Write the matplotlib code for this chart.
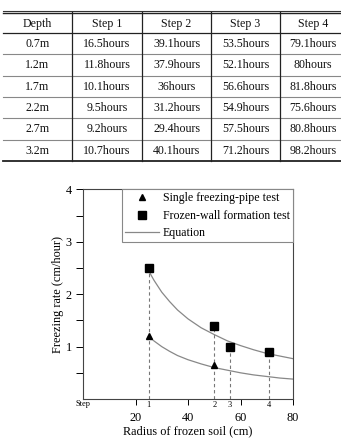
import numpy as np
import matplotlib
matplotlib.use("Agg")
import matplotlib.pyplot as plt
import matplotlib.transforms as mtransforms

plt.rcParams['font.family'] = ['Liberation Serif', 'DejaVu Serif']

#---------TABLE DATA----------
depths = ["0.7m", "1.2m", "1.7m", "2.2m", "2.7m", "3.2m"]
steps = ["Step 1", "Step 2", "Step 3", "Step 4"]
hours = [
    ["16.5hours", "39.1hours", "53.5hours", "79.1hours"],
    ["11.8hours", "37.9hours", "52.1hours", "80hours"],
    ["10.1hours", "36hours", "56.6hours", "81.8hours"],
    ["9.5hours", "31.2hours", "54.9hours", "75.6hours"],
    ["9.2hours", "29.4hours", "57.5hours", "80.8hours"],
    ["10.7hours", "40.1hours", "71.2hours", "98.2hours"],
]

#---------CHART DATA----------
single_x = [25, 50]
single_y = [1.2, 0.65]
wall_x = [25, 50, 56, 71]
wall_y = [2.5, 1.4, 1.0, 0.9]
step_labels = ["1", "2", "3", "4"]

# equation curves
eq_x = [25, 27, 30, 33, 36, 40, 45, 50, 55, 60, 65, 70, 75, 80]
eq_upper = [2.45, 2.27, 2.04, 1.86, 1.70, 1.53, 1.36, 1.23, 1.11, 1.02, 0.94, 0.87, 0.82, 0.77]
eq_lower = [1.20, 1.11, 1.00, 0.91, 0.83, 0.75, 0.67, 0.60, 0.55, 0.50, 0.46, 0.43, 0.40, 0.38]

W, H = 341, 440
fig = plt.figure(figsize=(W / 100, H / 100), dpi=100)

#---------TABLE----------
tb = fig.add_axes([0, 0, 1, 1])
tb.set_xlim(0, W)
tb.set_ylim(H, 0)
tb.axis('off')

col_edges = [3, 72, 142, 211, 280, 345]
row_edges = [12, 33, 54.5, 76, 97, 118.5, 140, 161]
col_centers = [37.5, 107, 176.5, 245.5, 313]

tb.plot([3, W], [11.3, 11.3], color='#333333', lw=0.8)
tb.plot([3, W], [13.0, 13.0], color='#222222', lw=1.0)
tb.plot([3, W], [row_edges[1], row_edges[1]], color='#222222', lw=0.9)
for y in row_edges[2:-1]:
    tb.plot([3, W], [y, y], color='#888888', lw=0.8)
tb.plot([3, W], [row_edges[-1], row_edges[-1]], color='#222222', lw=1.3)
for x in col_edges[1:-1]:
    tb.plot([x, x], [12, 161], color='#222222', lw=0.9)

header = ["Depth"] + steps
for cx, txt in zip(col_centers, header):
    tb.text(cx, 23.5, txt, ha='center', va='center', fontsize=8.6, color='#111111')
for i, d in enumerate(depths):
    cy = (row_edges[i + 1] + row_edges[i + 2]) / 2
    row = [d] + hours[i]
    for cx, txt in zip(col_centers, row):
        tb.text(cx, cy, txt, ha='center', va='center', fontsize=8.6, color='#111111')

#---------CHART----------
ax = fig.add_axes([83 / W, 41 / H, 210 / W, 209.5 / H])
ax.set_xlim(0, 80)
ax.set_ylim(0, 4)

for x, y in zip(wall_x, wall_y):
    ax.plot([x, x], [0, y], color='#777777', lw=0.8, ls=(0, (3, 2.5)), zorder=1)

ax.plot(eq_x, eq_upper, color='#888888', lw=0.9, zorder=2)
ax.plot(eq_x, eq_lower, color='#888888', lw=0.9, zorder=2)
h_single, = ax.plot(single_x, single_y, ls='none', marker='^', ms=4.5, color='black', zorder=3)
h_wall, = ax.plot(wall_x, wall_y, ls='none', marker='s', ms=5.2, color='black', zorder=3)
h_eq, = ax.plot([], [], color='#888888', lw=0.9)

leg = ax.legend([h_single, h_wall, h_eq],
                ['Single freezing-pipe test', 'Frozen-wall formation test', 'Equation'],
                loc='upper right', fontsize=8.6, frameon=True, fancybox=False,
                borderaxespad=0, handlelength=2.85, handletextpad=0.3,
                borderpad=0.25, labelspacing=0.45, framealpha=1)
leg.get_frame().set_edgecolor('#888888')
leg.get_frame().set_linewidth(0.8)

ax.set_xticks([20, 40, 60, 80])
ax.set_yticks([1, 2, 3, 4])
ax.set_yticks([0.5, 1.5, 2.5, 3.5], minor=True)
ax.tick_params(axis='x', direction='out', length=4, width=0.7, pad=5.5, labelsize=8.8)
ax.tick_params(axis='y', which='major', direction='out', length=5, width=0.7, pad=3, labelsize=8.8)
ax.tick_params(axis='y', which='minor', direction='out', length=5, width=0.7)
for s in ax.spines.values():
    s.set_color('#444444')
    s.set_linewidth(0.8)

# step labels under the axis
trans = mtransforms.blended_transform_factory(ax.transData, ax.transAxes)
for x, lab in zip(wall_x, step_labels):
    ax.text(x, -0.03, lab, transform=trans, ha='center', va='center', fontsize=6)
ax.text(0, -0.025, "Step", transform=trans, ha='center', va='center', fontsize=6)

ax.set_xlabel("Radius of frozen soil (cm)", fontsize=8.8, labelpad=1)
ax.set_ylabel("Freezing rate (cm/hour)", fontsize=8.8, labelpad=1)

fig.savefig("out.png", dpi=100)
